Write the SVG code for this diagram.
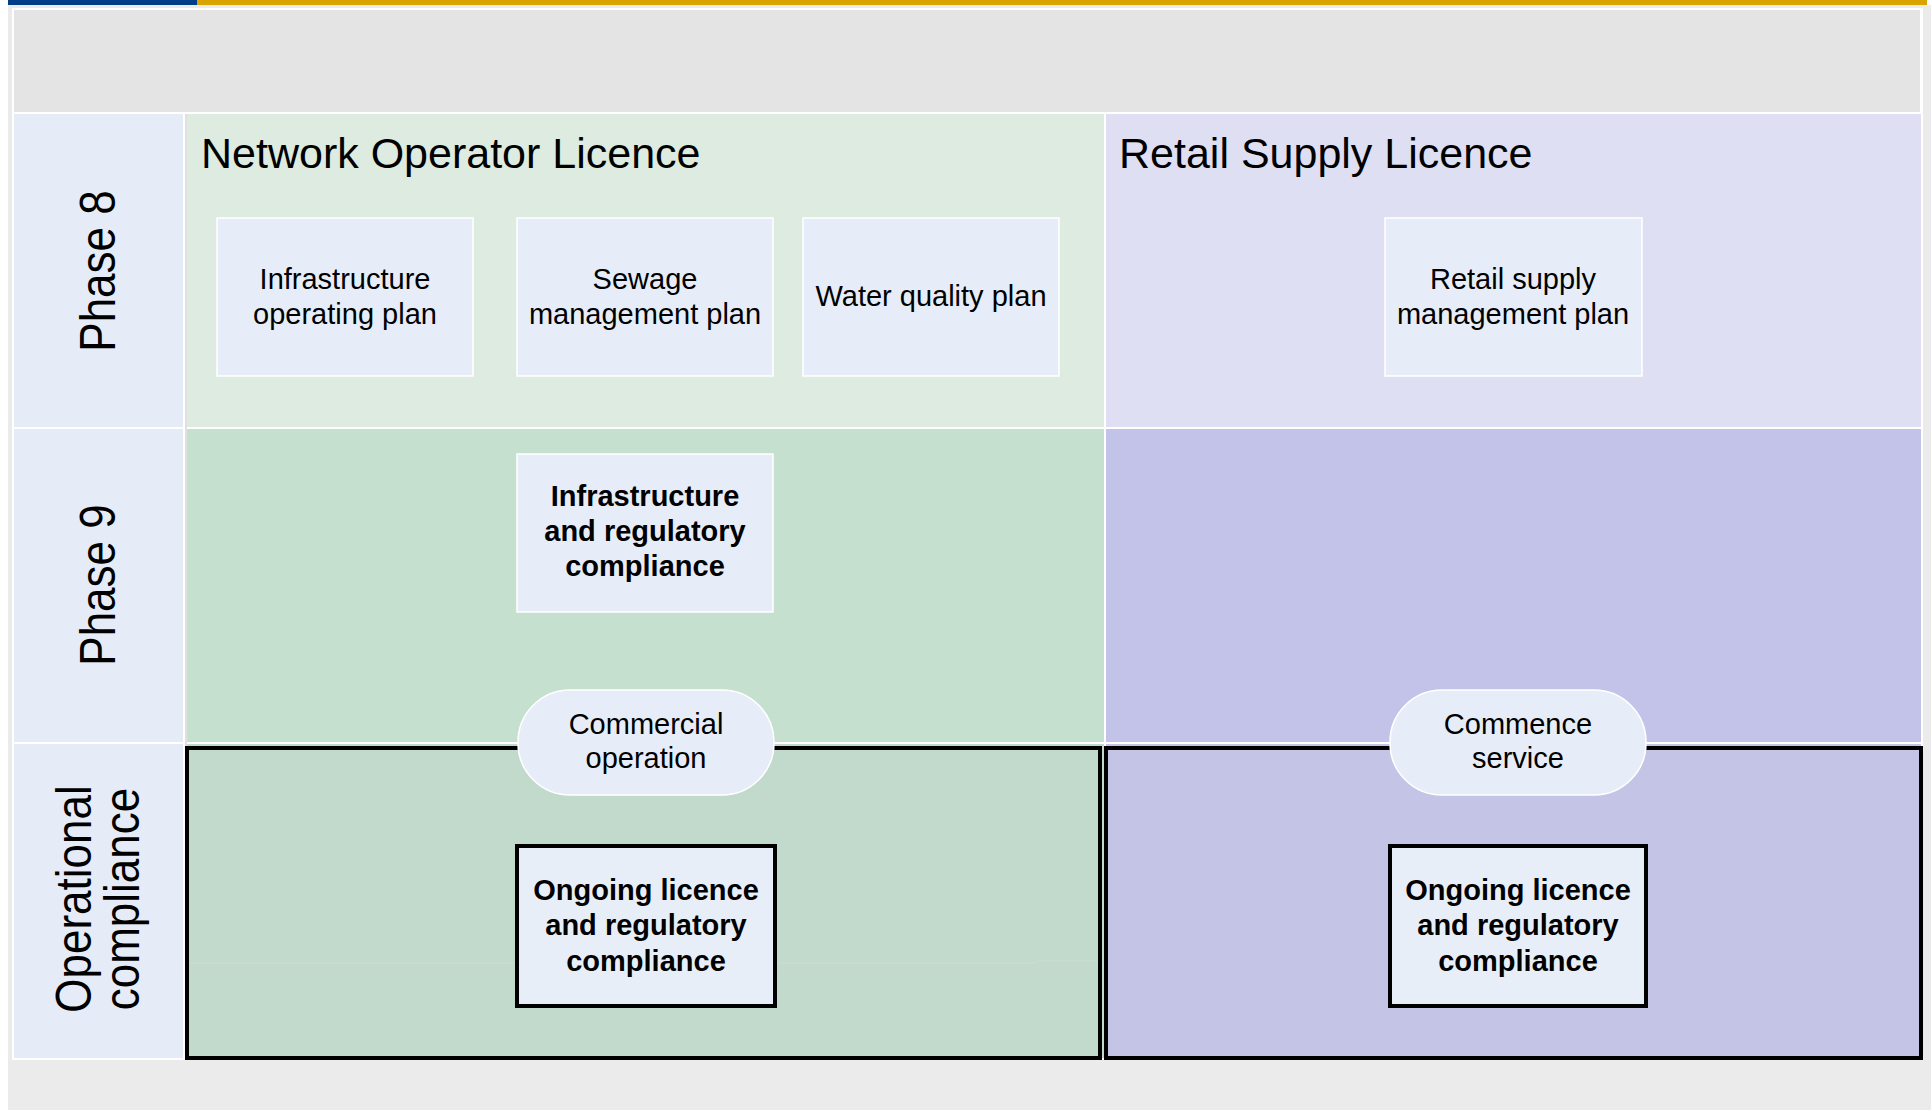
<svg xmlns="http://www.w3.org/2000/svg" width="1931" height="1110" viewBox="0 0 1931 1110">
<defs>
<style>
text{font-family:"Liberation Sans",Arial,sans-serif;fill:#000;}
.title{font-size:43px;}
.lab{font-size:44px;text-anchor:middle;}
.t{font-size:29px;text-anchor:middle;}
.b{font-size:29px;font-weight:bold;text-anchor:middle;}
.plan{fill:#e7edf8;stroke:#ffffff;stroke-width:1.5;}
.pill{fill:#e7edf8;stroke:#ffffff;stroke-width:1.5;}
.ongo{fill:#e8eef8;stroke:#000;stroke-width:4;}
.frame{fill:none;stroke:#000;stroke-width:4;}
.labcell{fill:#e6ecf7;}
</style>
</defs>
<rect x="0" y="0" width="1931" height="1110" fill="#ffffff"/>
<rect x="8" y="5" width="1923" height="1105" fill="#ebebeb"/>
<rect x="12" y="8" width="1911" height="1052" fill="#ffffff"/>
<rect x="8" y="0" width="189" height="5" fill="#003f87"/>
<rect x="197" y="0" width="1730" height="5" fill="#d9a300"/>
<rect x="14" y="10" width="1906" height="102" fill="#e4e4e4"/>

<g id="lanes">
<rect class="labcell" x="14" y="114" width="169" height="313"/>
<rect class="labcell" x="14" y="429" width="169" height="313"/>
<rect class="labcell" x="14" y="744" width="169" height="314"/>
<rect x="185" y="114" width="2" height="944" fill="#e0e0e0"/>
<rect x="187" y="114" width="917" height="313" fill="#ddebe0"/>
<rect x="187" y="429" width="917" height="313" fill="#c5e0cf"/>
<rect x="187" y="744" width="917" height="314" fill="#c2dacb"/>
<rect x="1106" y="114" width="815" height="313" fill="#dedff3"/>
<rect x="1106" y="429" width="815" height="313" fill="#c3c3e9"/>
<rect x="1106" y="744" width="815" height="314" fill="#c4c4e6"/>
<line x1="187" y1="963" x2="1037" y2="963" stroke="#c9ddd0" stroke-width="1.5"/>
<line x1="1037" y1="961" x2="1100" y2="961" stroke="#c9ddd0" stroke-width="1.5"/>
</g>

<g id="row-labels">
<text class="lab" transform="translate(115,271) rotate(-90) scale(1,1.12)">Phase 8</text>
<text class="lab" transform="translate(115,585) rotate(-90) scale(1,1.12)">Phase 9</text>
<text class="lab" transform="translate(91,899) rotate(-90) scale(1,1.12)">Operational</text>
<text class="lab" transform="translate(139,899) rotate(-90) scale(1,1.12)">compliance</text>
</g>

<g id="titles">
<text class="title" x="201" y="168">Network Operator Licence</text>
<text class="title" x="1119" y="168">Retail Supply Licence</text>
</g>

<g id="connectors">
<rect class="frame" x="187" y="748" width="913" height="310"/>
<rect class="frame" x="1106" y="748" width="815" height="310"/>
</g>

<g id="node-infra-plan">
<rect class="plan" x="217" y="218" width="256" height="158"/>
<text class="t" x="345" y="289">Infrastructure</text>
<text class="t" x="345" y="324">operating plan</text>
</g>
<g id="node-sewage-plan">
<rect class="plan" x="517" y="218" width="256" height="158"/>
<text class="t" x="645" y="289">Sewage</text>
<text class="t" x="645" y="324">management plan</text>
</g>
<g id="node-water-plan">
<rect class="plan" x="803" y="218" width="256" height="158"/>
<text class="t" x="931" y="306">Water quality plan</text>
</g>
<g id="node-retail-plan">
<rect class="plan" x="1385" y="218" width="257" height="158"/>
<text class="t" x="1513" y="289">Retail supply</text>
<text class="t" x="1513" y="324">management plan</text>
</g>

<g id="node-infra-compliance">
<rect class="plan" x="517" y="454" width="256" height="158"/>
<text class="b" x="645" y="506">Infrastructure</text>
<text class="b" x="645" y="541">and regulatory</text>
<text class="b" x="645" y="576">compliance</text>
</g>

<g id="node-commercial-operation">
<rect class="pill" x="518" y="690" width="256" height="105" rx="52" ry="52"/>
<text class="t" x="646" y="734">Commercial</text>
<text class="t" x="646" y="768">operation</text>
</g>
<g id="node-commence-service">
<rect class="pill" x="1390" y="690" width="256" height="105" rx="52" ry="52"/>
<text class="t" x="1518" y="734">Commence</text>
<text class="t" x="1518" y="768">service</text>
</g>

<g id="node-ongoing-network">
<rect class="ongo" x="517" y="846" width="258" height="160"/>
<text class="b" x="646" y="900">Ongoing licence</text>
<text class="b" x="646" y="935">and regulatory</text>
<text class="b" x="646" y="971">compliance</text>
</g>
<g id="node-ongoing-retail">
<rect class="ongo" x="1390" y="846" width="256" height="160"/>
<text class="b" x="1518" y="900">Ongoing licence</text>
<text class="b" x="1518" y="935">and regulatory</text>
<text class="b" x="1518" y="971">compliance</text>
</g>
</svg>
